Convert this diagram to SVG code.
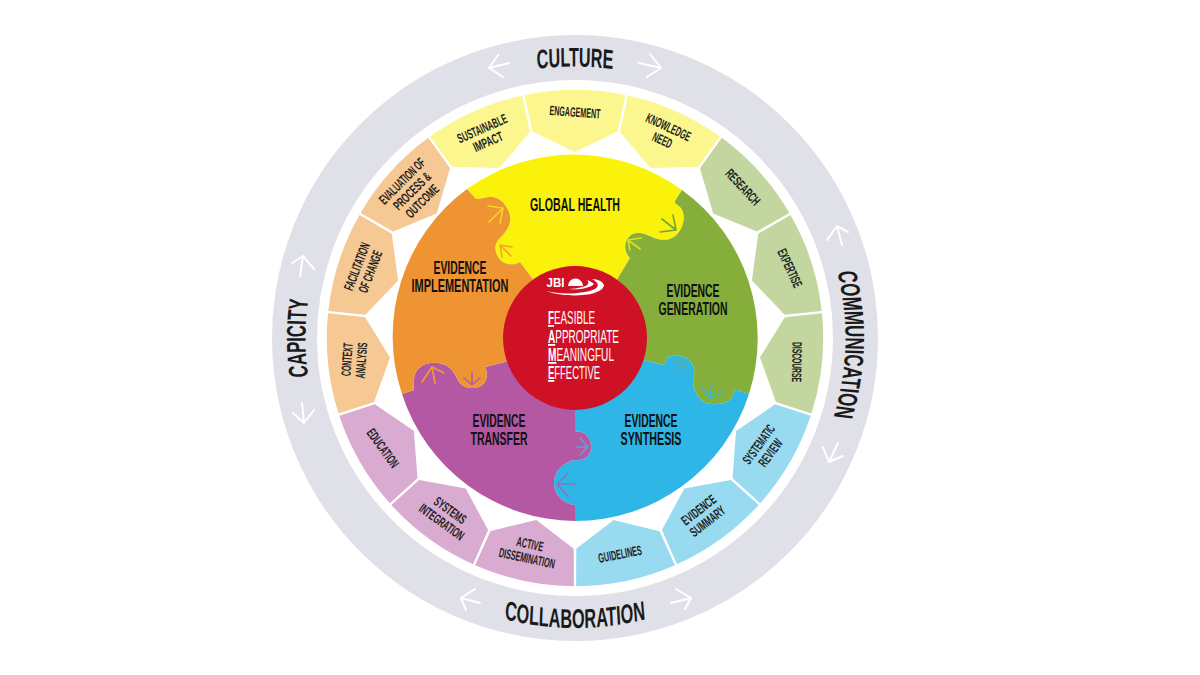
<svg xmlns="http://www.w3.org/2000/svg" xmlns:xlink="http://www.w3.org/1999/xlink" width="1200" height="675" viewBox="0 0 1200 675">
<style>
text{font-family:"Liberation Sans",Arial,sans-serif;font-weight:700;text-anchor:middle}
.s{font-size:13.5px;fill:#222}
.b{font-size:18px;fill:#111}
.r{font-size:27px;fill:#1a1a1a}
.f{font-size:18px;fill:#fff;font-weight:400;text-anchor:start}
.f tspan{font-weight:700;text-decoration:underline}
.j{font-size:12px;fill:#fff}
.ly{fill:#FBF68E}.lg{fill:#C3D6A0}.lb{fill:#98DBF1}.lp{fill:#D9ABD0}.lo{fill:#F6C994}
.a{fill:none;stroke-width:1.6;stroke-linecap:round;stroke-linejoin:round}
.w{stroke:#fff;stroke-width:2}
</style>
<defs>
<path id="seg" d="M-50.5 -243A248 248 0 0 1 50.5 -243L42.6 -206.5L0 -186L-42.6 -206.5Z"/>
<path id="p-culture" d="M-452 0A452 271.5 0 0 1 452 0"/>
<path id="p-communication" d="M-431 0A431 270.5 0 0 1 431 0"/>
<path id="p-capicity" d="M-435 0A435 269.5 0 0 1 435 0"/>
<path id="p-collaboration" d="M-481 0A481 290 0 0 0 481 0"/>
</defs>
<rect width="1200" height="675" fill="#fff"/>
<circle id="ring" cx="575" cy="338" r="280.5" fill="none" stroke="#E0E0E8" stroke-width="45"/>

<g id="ring-culture" transform="translate(575 338) scale(.6 1)"><text class="r"><textPath href="#p-culture" startOffset="50%">CULTURE</textPath></text></g>
<g id="ring-communication" transform="translate(575 338) rotate(91.4) scale(.627 1)"><text class="r"><textPath href="#p-communication" startOffset="50%">COMMUNICATION</textPath></text></g>
<g id="ring-collaboration" transform="translate(575 338) scale(.603 1)"><text class="r"><textPath href="#p-collaboration" startOffset="50%">COLLABORATION</textPath></text></g>
<g id="ring-capicity" transform="translate(575 338) rotate(-90) scale(.62 1)"><text class="r"><textPath href="#p-capicity" startOffset="50%">CAPICITY</textPath></text></g>

<g id="seg-engagement"><use href="#seg" class="ly" transform="translate(575 338)"/><text class="s" transform="translate(575 112) rotate(4)" y="4.8" textLength="51" lengthAdjust="spacingAndGlyphs">ENGAGEMENT</text></g>
<g id="seg-knowledge-need"><use href="#seg" class="ly" transform="translate(575 338) rotate(24)"/><g transform="translate(665.5 133.5) rotate(25)"><text class="s" y="-2.4" textLength="48" lengthAdjust="spacingAndGlyphs">KNOWLEDGE</text><text class="s" y="12" textLength="20" lengthAdjust="spacingAndGlyphs">NEED</text></g></g>
<g id="seg-research"><use href="#seg" class="lg" transform="translate(575 338) rotate(48)"/><text class="s" transform="translate(743 187) rotate(47)" y="4.8" textLength="44" lengthAdjust="spacingAndGlyphs">RESEARCH</text></g>
<g id="seg-expertise"><use href="#seg" class="lg" transform="translate(575 338) rotate(72)"/><text class="s" transform="translate(790 268) rotate(65)" y="4.8" textLength="41" lengthAdjust="spacingAndGlyphs">EXPERTISE</text></g>
<g id="seg-discourse"><use href="#seg" class="lg" transform="translate(575 338) rotate(96)"/><text class="s" transform="translate(797 362) rotate(91)" y="4.8" textLength="40" lengthAdjust="spacingAndGlyphs">DISCOURSE</text></g>
<g id="seg-systematic-review"><use href="#seg" class="lb" transform="translate(575 338) rotate(120)"/><g transform="translate(764.5 448.5) rotate(-54)"><text class="s" y="-2.4" textLength="45" lengthAdjust="spacingAndGlyphs">SYSTEMATIC</text><text class="s" y="12" textLength="31" lengthAdjust="spacingAndGlyphs">REVIEW</text></g></g>
<g id="seg-evidence-summary"><use href="#seg" class="lb" transform="translate(575 338) rotate(144)"/><g transform="translate(703 515.5) rotate(-38)"><text class="s" y="-2.4" textLength="40" lengthAdjust="spacingAndGlyphs">EVIDENCE</text><text class="s" y="12" textLength="41" lengthAdjust="spacingAndGlyphs">SUMMARY</text></g></g>
<g id="seg-guidelines"><use href="#seg" class="lb" transform="translate(575 338) rotate(168)"/><text class="s" transform="translate(620 554) rotate(-11)" y="4.8" textLength="44" lengthAdjust="spacingAndGlyphs">GUIDELINES</text></g>
<g id="seg-active-dissemination"><use href="#seg" class="lp" transform="translate(575 338) rotate(192)"/><g transform="translate(528.5 551) rotate(12)"><text class="s" y="-2.4" textLength="27" lengthAdjust="spacingAndGlyphs">ACTIVE</text><text class="s" y="12" textLength="57" lengthAdjust="spacingAndGlyphs">DISSEMINATION</text></g></g>
<g id="seg-systems-integration"><use href="#seg" class="lp" transform="translate(575 338) rotate(216)"/><g transform="translate(446 516) rotate(36)"><text class="s" y="-2.4" textLength="36" lengthAdjust="spacingAndGlyphs">SYSTEMS</text><text class="s" y="12" textLength="52" lengthAdjust="spacingAndGlyphs">INTEGRATION</text></g></g>
<g id="seg-education"><use href="#seg" class="lp" transform="translate(575 338) rotate(240)"/><text class="s" transform="translate(383 448) rotate(54)" y="4.8" textLength="45" lengthAdjust="spacingAndGlyphs">EDUCATION</text></g>
<g id="seg-context-analysis"><use href="#seg" class="lo" transform="translate(575 338) rotate(264)"/><g transform="translate(354 360) rotate(-86)"><text class="s" y="-2.4" textLength="33" lengthAdjust="spacingAndGlyphs">CONTEXT</text><text class="s" y="12" textLength="36" lengthAdjust="spacingAndGlyphs">ANALYSIS</text></g></g>
<g id="seg-facilitation"><use href="#seg" class="lo" transform="translate(575 338) rotate(288)"/><g transform="translate(363.5 269) rotate(-69)"><text class="s" y="-2.4" textLength="50" lengthAdjust="spacingAndGlyphs">FACILITATION</text><text class="s" y="12" textLength="44" lengthAdjust="spacingAndGlyphs">OF CHANGE</text></g></g>
<g id="seg-evaluation"><use href="#seg" class="lo" transform="translate(575 338) rotate(312)"/><g transform="translate(412 191) rotate(-45)"><text class="s" y="-9.4" textLength="59" lengthAdjust="spacingAndGlyphs">EVALUATION OF</text><text class="s" y="4.8" textLength="47" lengthAdjust="spacingAndGlyphs">PROCESS &amp;</text><text class="s" y="19" textLength="41" lengthAdjust="spacingAndGlyphs">OUTCOME</text></g></g>
<g id="seg-sustainable-impact"><use href="#seg" class="ly" transform="translate(575 338) rotate(336)"/><g transform="translate(485 135) rotate(-24)"><text class="s" y="-2.4" textLength="53" lengthAdjust="spacingAndGlyphs">SUSTAINABLE</text><text class="s" y="12" textLength="31" lengthAdjust="spacingAndGlyphs">IMPACT</text></g></g>

<g id="global-health"><path fill="#FAF20A" d="M575 338L532 278L520 262C512 267 499 264 496 252C494 245 497 241 501 237C508 230 511 223 510 216C508 204 497 195 488 197C483 198 479 199 476 199L467 189A183 183 0 0 1 682 190L675 201C674 203 677 204 681 208C685 213 685 224 679 232C672 242 660 241 652 237C645 234 638 231 631 235C623 241 624 252 630 258L618 278Z"/><text class="b" x="575" y="211" textLength="90" lengthAdjust="spacingAndGlyphs">GLOBAL HEALTH</text></g>
<g id="evidence-generation"><path fill="#85AE3A" d="M575 338L618 278L630 258C624 252 623 241 631 235C638 231 645 234 652 237C660 241 672 242 679 232C685 224 685 213 681 208C677 204 674 203 675 201L682 190A183 183 0 0 1 749 394L737 390C734 390 733 392 733 396C730 403 714 407 704 402C695 396 691 384 694 374C696 365 688 356 678 356C670 355 664 358 665 365L647 361Z"/><text class="b" x="693" y="297" textLength="53" lengthAdjust="spacingAndGlyphs">EVIDENCE</text><text class="b" x="693" y="314.5" textLength="69" lengthAdjust="spacingAndGlyphs">GENERATION</text></g>
<g id="evidence-synthesis"><path fill="#2EB6E6" d="M575 338L647 361L665 365C664 358 670 355 678 356C688 356 696 365 694 374C691 384 695 396 704 402C714 407 730 403 733 396C733 392 734 390 737 390L749 394A183 183 0 0 1 575 521L575 505C564 504 554 495 554 483C554 472 563 462 575 460C584 461 591 456 591 447C591 438 585 430 575 432Z"/><text class="b" x="651" y="427" textLength="53" lengthAdjust="spacingAndGlyphs">EVIDENCE</text><text class="b" x="651" y="445" textLength="61" lengthAdjust="spacingAndGlyphs">SYNTHESIS</text></g>
<g id="evidence-transfer"><path fill="#B558A4" d="M575 338L575 432C585 430 591 438 591 447C591 456 584 461 575 460C563 462 554 472 554 483C554 495 564 504 575 505L575 521A183 183 0 0 1 402 394L414 390C413 385 413 378 416 372C420 364 432 361 442 364C452 366 455 375 459 382C463 388 473 390 481 386C488 381 488 373 485 367L505 362Z"/><text class="b" x="499" y="427" textLength="53" lengthAdjust="spacingAndGlyphs">EVIDENCE</text><text class="b" x="499" y="445" textLength="57" lengthAdjust="spacingAndGlyphs">TRANSFER</text></g>
<g id="evidence-implementation"><path fill="#EF9433" d="M575 338L505 362L485 367C488 373 488 381 481 386C473 390 463 388 459 382C455 375 452 366 442 364C432 361 420 364 416 372C413 378 413 385 414 390L402 394A183 183 0 0 1 467 189L476 199C479 199 483 198 488 197C497 195 508 204 510 216C511 223 508 230 501 237C497 241 494 245 496 252C499 264 512 267 520 262L532 278Z"/><text class="b" x="460" y="274" textLength="53" lengthAdjust="spacingAndGlyphs">EVIDENCE</text><text class="b" x="460" y="292" textLength="97" lengthAdjust="spacingAndGlyphs">IMPLEMENTATION</text></g>

<g id="connectors">
<path class="a" stroke="#F7D523" d="M489 222L503 208M488 206L503 208L500 223"/>
<path class="a" stroke="#F0A832" d="M511 256L500 245M512 247L500 245L502 257"/>
<path class="a" stroke="#6FA53A" d="M662 219L676 230M673 215L676 230L660 232"/>
<path class="a" stroke="#DCE01E" d="M640 249L628 240M641 238L628 240L630 250"/>
<path class="a" stroke="#5CB09A" d="M688 370L682 359M672 362L682 359L679 372"/>
<path class="a" stroke="#3AB8D8" d="M712 383L710 398M702 387L710 398L723 392"/>
<path class="a" stroke="#6A9AD8" d="M576 447L588 447M580 438L588 447L580 455"/>
<path class="a" stroke="#9070C0" d="M575 484L557 484M568 473L557 484L568 496"/>
<path class="a" stroke="#F09A3C" d="M435 383L432 367M422 382L432 367L444 373"/>
<path class="a" stroke="#B060A0" d="M472 372L472 385M464 378L472 385L480 378"/>
<path class="a w" d="M509 63L489 68M498 55L489 68L503 77"/>
<path class="a w" d="M639 63L661 68M650 54L661 68L647 77"/>
<path class="a w" d="M842 245L837 226M827 240L837 226L848 232"/>
<path class="a w" d="M838 443L829 462M823 447L829 462L843 456"/>
<path class="a w" d="M480 603L461 598M475 589L461 598L466 610"/>
<path class="a w" d="M671 603L691 598M676 589L691 598L685 609"/>
<path class="a w" d="M300 276L303 256M292 263L303 256L314 269"/>
<path class="a w" d="M302 403L304 423M293 413L304 423L314 410"/>
</g>

<g id="center-fame">
<circle cx="575" cy="338" r="72" fill="#CF1126"/>
<text class="j" x="555.5" y="286.5" textLength="18" lengthAdjust="spacingAndGlyphs">JBI</text>
<path fill="#fff" d="M568 286A7.5 7.5 0 0 1 583 286Z"/>
<path fill="#fff" d="M546 291C565 298 600 297 604 286C604 282 598 279 592 279C598 282 600 286 595 289C585 294 560 295 546 291Z"/>
<path fill="#fff" d="M569 289C580 290 590 288 594 284C592 282 590 281 587 280C590 283 588 286 582 287C578 288 573 289 569 289Z"/>
<text class="f" x="548" y="324" textLength="47" lengthAdjust="spacingAndGlyphs"><tspan>F</tspan>EASIBLE</text>
<text class="f" x="548" y="343" textLength="71" lengthAdjust="spacingAndGlyphs"><tspan>A</tspan>PPROPRIATE</text>
<text class="f" x="548" y="361" textLength="66" lengthAdjust="spacingAndGlyphs"><tspan>M</tspan>EANINGFUL</text>
<text class="f" x="548" y="379" textLength="52" lengthAdjust="spacingAndGlyphs"><tspan>E</tspan>FFECTIVE</text>
</g>
</svg>
